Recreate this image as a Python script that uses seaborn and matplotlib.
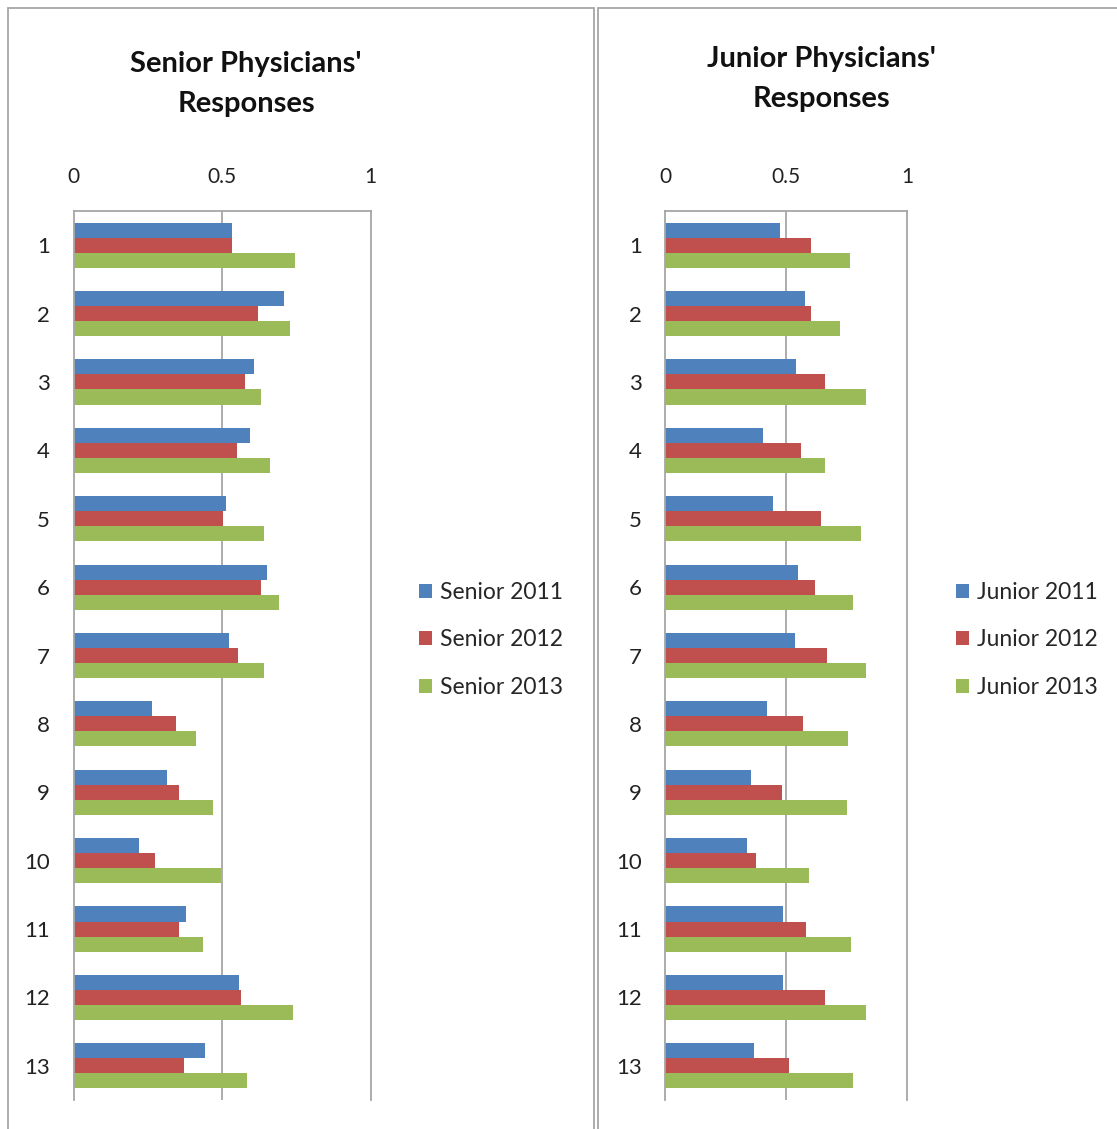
import matplotlib
matplotlib.use("Agg")
import matplotlib.pyplot as plt
import seaborn as sns
import pandas as pd
from matplotlib.patches import Rectangle

questions = [str(i) for i in range(1, 14)]

senior_2011 = [0.534, 0.709, 0.607, 0.592, 0.514, 0.651, 0.524, 0.265, 0.314, 0.221, 0.377, 0.558, 0.441]
senior_2012 = [0.534, 0.622, 0.578, 0.549, 0.502, 0.632, 0.553, 0.343, 0.353, 0.275, 0.353, 0.563, 0.372]
senior_2013 = [0.744, 0.728, 0.632, 0.661, 0.642, 0.690, 0.642, 0.412, 0.470, 0.495, 0.436, 0.740, 0.582]

junior_2011 = [0.475, 0.578, 0.541, 0.403, 0.446, 0.548, 0.535, 0.422, 0.356, 0.338, 0.488, 0.488, 0.368]
junior_2012 = [0.601, 0.601, 0.662, 0.560, 0.643, 0.619, 0.668, 0.571, 0.481, 0.374, 0.584, 0.662, 0.512]
junior_2013 = [0.763, 0.721, 0.829, 0.662, 0.811, 0.775, 0.829, 0.757, 0.752, 0.596, 0.770, 0.829, 0.775]

senior_labels = ["Senior 2011", "Senior 2012", "Senior 2013"]
junior_labels = ["Junior 2011", "Junior 2012", "Junior 2013"]
titles = ["Senior Physicians'\nResponses", "Junior Physicians'\nResponses"]
x_ticks = [0, 0.5, 1]
x_ticklabels = ["0", "0.5", "1"]
colors = ["#4F81BD", "#C0504D", "#9BBB59"]


def long_df(labels, series):
    rows = []
    for lab, vals in zip(labels, series):
        for q, v in zip(questions, vals):
            rows.append({"question": q, "value": v, "series": lab})
    return pd.DataFrame(rows)


sns.set_theme(style="white")
plt.rcParams["font.family"] = ["Lato", "DejaVu Sans"]

W, H = 1117, 1129
fig = plt.figure(figsize=(W / 100, H / 100), dpi=100)

gray = "#A6A6A6"
# panel borders
fig.patches.append(Rectangle((8 / W, -0.01), (594 - 8) / W, 1 - 8 / H + 0.01,
                             transform=fig.transFigure, fill=False, edgecolor=gray, linewidth=1.3))
fig.patches.append(Rectangle((598 / W, -0.01), (1130 - 598) / W, 1 - 8 / H + 0.01,
                             transform=fig.transFigure, fill=False, edgecolor=gray, linewidth=1.3))

panels = [
    dict(left=73.7, right=370.7, labels=senior_labels,
         series=[senior_2011, senior_2012, senior_2013], title_x=246, title_y=84, leg_x=419),
    dict(left=665.3, right=907.0, labels=junior_labels,
         series=[junior_2011, junior_2012, junior_2013], title_x=821, title_y=79, leg_x=956),
]
top_px, bot_px = 211, 1100

for i, p in enumerate(panels):
    ax = fig.add_axes([p["left"] / W, 1 - bot_px / H, (p["right"] - p["left"]) / W, (bot_px - top_px) / H])
    df = long_df(p["labels"], p["series"])
    sns.barplot(data=df, y="question", x="value", hue="series", order=questions,
                hue_order=p["labels"], palette=colors, orient="h", width=0.66, gap=0,
                saturation=1, linewidth=0, ax=ax, errorbar=None)
    ax.set_xlim(0, 1)
    ax.set_ylim(12.5, -0.5)
    ax.set_xticks(x_ticks)
    ax.set_xticklabels(x_ticklabels)
    ax.xaxis.tick_top()
    ax.tick_params(axis="x", length=0, pad=17, labelsize=15, colors="#222222")
    ax.tick_params(axis="y", length=0, pad=17, labelsize=16, colors="#222222")
    ax.set_xlabel("")
    ax.set_ylabel("")
    for s in ["top", "left", "right"]:
        ax.spines[s].set_visible(True)
        ax.spines[s].set_color(gray)
        ax.spines[s].set_linewidth(1.3)
    ax.spines["bottom"].set_visible(False)
    ax.axvline(0.5, color=gray, linewidth=1.3, zorder=0)
    ax.set_axisbelow(True)
    for lab in ax.get_yticklabels():
        lab.set_horizontalalignment("right")
    fig.text(p["title_x"] / W, 1 - p["title_y"] / H, titles[i], ha="center", va="center",
             fontsize=21, fontweight="bold", linespacing=1.7, color="#111111")
    handles, labels = ax.get_legend_handles_labels()
    ax.legend_.remove()
    fig.legend(handles, labels, loc="center left", bbox_to_anchor=(p["leg_x"] / W, 1 - 640 / H),
               frameon=False, fontsize=16.5, handlelength=0.55, handleheight=0.55,
               handletextpad=0.35, labelspacing=1.15, borderaxespad=0, borderpad=0)

fig.savefig("out.png", dpi=100)
